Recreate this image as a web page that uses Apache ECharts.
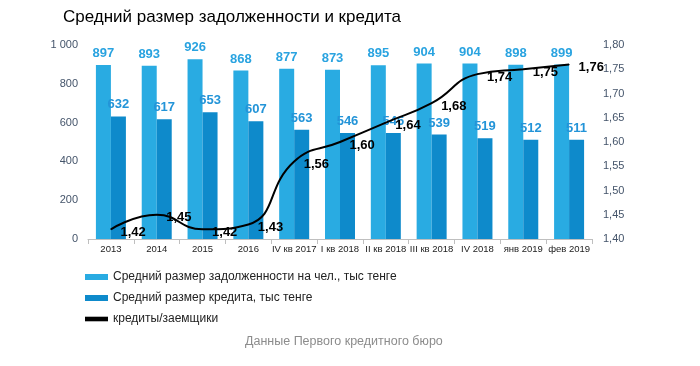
<!DOCTYPE html>
<html>
<head>
<meta charset="utf-8">
<script src="https://cdn.jsdelivr.net/npm/echarts@6/dist/echarts.min.js"></script>
<style>html,body{margin:0;padding:0;background:#fff;}#c{width:700px;height:366px;}</style>
</head>
<body>
<div id="c"></div>
<script>
var categories = ['2013','2014','2015','2016','IV кв 2017','I кв 2018','II кв 2018','III кв 2018','IV 2018','янв 2019','фев 2019'];
var debtValues = [897, 893, 926, 868, 877, 873, 895, 904, 904, 898, 899];
var creditValues = [632, 617, 653, 607, 563, 546, 546, 539, 519, 512, 511];
var ratioValues = [1.42, 1.45, 1.42, 1.43, 1.56, 1.60, 1.64, 1.68, 1.74, 1.75, 1.76];
var seriesNames = ['Средний размер задолженности на чел., тыс тенге', 'Средний размер кредита, тыс тенге', 'кредиты/заемщики'];

var chart = echarts.init(document.getElementById('c'), null, {renderer: 'canvas'});
var baseFont = 'Liberation Sans, Arial, sans-serif';
function barLabel(color) {
  return {show: true, position: 'top', distance: 5, color: color, fontWeight: 'bold', fontSize: 13, fontFamily: baseFont};
}
chart.setOption({
  animation: false,
  title: {text: 'Средний размер задолженности и кредита', left: 63, top: 9, padding: 0,
    textStyle: {fontSize: 17, fontWeight: 'normal', color: '#000', fontFamily: baseFont}},
  grid: {left: 88, right: 108, top: 45, bottom: 127},
  legend: {
    orient: 'vertical', left: 85, top: 271, padding: 0, itemWidth: 23, itemHeight: 6, itemGap: 9,
    textStyle: {fontSize: 12, color: '#222', fontFamily: baseFont},
    data: [{name: seriesNames[0], icon: 'rect'}, {name: seriesNames[1], icon: 'rect'}, {name: seriesNames[2], icon: 'path://M0 40H100V60H0Z'}]
  },
  xAxis: {
    type: 'category', data: categories,
    axisLine: {lineStyle: {color: '#bfbfbf'}},
    axisTick: {show: true, length: 5, lineStyle: {color: '#bfbfbf'}},
    axisLabel: {color: '#222', fontSize: 9.5, fontFamily: baseFont, margin: 5, interval: 0}
  },
  yAxis: [{
    type: 'value', min: 0, max: 1000, interval: 200,
    splitLine: {show: false}, axisLine: {show: false}, axisTick: {show: false},
    axisLabel: {color: '#44546a', fontSize: 11, margin: 10, fontFamily: baseFont,
      formatter: function (v) { return v === 1000 ? '1 000' : String(v); }}
  }, {
    type: 'value', min: 1.4, max: 1.8, interval: 0.05,
    splitLine: {show: false}, axisLine: {show: false}, axisTick: {show: false},
    axisLabel: {color: '#44546a', fontSize: 11, margin: 11, fontFamily: baseFont,
      formatter: function (v) { return v.toFixed(2).replace('.', ','); }}
  }],
  series: [{
    name: seriesNames[0], type: 'bar', data: debtValues, barWidth: 15, barGap: '0%',
    itemStyle: {color: '#29abe2'}, label: barLabel('#29a3e0')
  }, {
    name: seriesNames[1], type: 'bar', data: creditValues, barWidth: 15, barGap: '0%',
    itemStyle: {color: '#0e8acb'}, label: barLabel('#2394d8')
  }, {
    name: seriesNames[2], type: 'line', yAxisIndex: 1, data: ratioValues, smooth: 0.5,
    symbol: 'circle', symbolSize: 1, itemStyle: {color: '#000'},
    lineStyle: {color: '#000', width: 2},
    label: {show: true, position: 'right', distance: 9, offset: [0, 3], color: '#000', fontWeight: 'bold', fontSize: 13,
      fontFamily: baseFont,
      formatter: function (p) { return p.value.toFixed(2).replace('.', ','); }},
    z: 5
  }],
  graphic: [{type: 'text', left: 245, top: 335, style: {text: 'Данные Первого кредитного бюро', fontSize: 12.5, fill: '#8c8c8c', fontFamily: baseFont}}]
});
</script>
</body>
</html>
